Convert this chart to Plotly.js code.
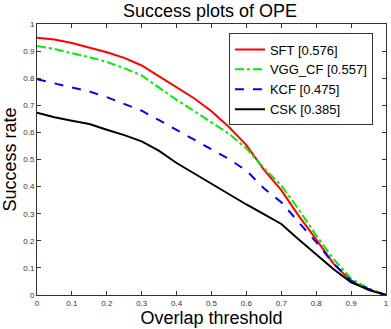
<!DOCTYPE html>
<html>
<head>
<meta charset="utf-8">
<script src="https://cdn.plot.ly/plotly-3.0.1.min.js"></script>
<style>
  body { margin: 0; background: #fff; }
  #chart { width: 391px; height: 329px; }
</style>
</head>
<body>
<div id="chart"></div>
<script>
// overlap thresholds
var thresholds = [0, 0.05, 0.1, 0.15, 0.2, 0.25, 0.3, 0.35, 0.4, 0.45, 0.5,
  0.55, 0.6, 0.65, 0.7, 0.75, 0.8, 0.85, 0.9, 0.95, 1];

// success rates
var sftRate = [0.949, 0.943, 0.93, 0.914, 0.896, 0.875, 0.847, 0.807, 0.766, 0.726, 0.678,
  0.62, 0.553, 0.463, 0.387, 0.292, 0.205, 0.115, 0.052, 0.018, 0];
var vggRate = [0.919, 0.908, 0.892, 0.878, 0.86, 0.837, 0.81, 0.765, 0.72, 0.679, 0.637,
  0.595, 0.541, 0.469, 0.404, 0.315, 0.22, 0.132, 0.06, 0.024, 0];
var kcfRate = [0.796, 0.781, 0.766, 0.751, 0.73, 0.705, 0.68, 0.645, 0.609, 0.572, 0.535,
  0.502, 0.459, 0.394, 0.342, 0.267, 0.195, 0.115, 0.053, 0.022, 0];
var cskRate = [0.673, 0.656, 0.643, 0.631, 0.61, 0.59, 0.567, 0.532, 0.487, 0.448, 0.41,
  0.373, 0.334, 0.298, 0.262, 0.205, 0.15, 0.095, 0.047, 0.02, 0];

var names = ["SFT [0.576]", "VGG_CF [0.557]", "KCF [0.475]", "CSK [0.385]"];

function trace(y, name, color, dash) {
  return {
    x: thresholds,
    y: y,
    name: name,
    type: "scatter",
    mode: "lines",
    line: { color: color, width: 2, dash: dash }
  };
}

var data = [
  trace(sftRate, names[0], "#ff0000", "solid"),
  trace(vggRate, names[1], "#00ee00", "dashdot"),
  trace(kcfRate, names[2], "#0000ff", "dash"),
  trace(cskRate, names[3], "#000000", "solid")
];

var axisStyle = {
  range: [0, 1],
  dtick: 0.1,
  showgrid: false,
  zeroline: false,
  showline: true,
  linecolor: "#333",
  linewidth: 1,
  mirror: "ticks",
  ticks: "inside",
  ticklen: 4,
  tickcolor: "#333",
  tickfont: { size: 8, color: "#333" }
};

var layout = {
  width: 391,
  height: 329,
  margin: { l: 37, r: 5, t: 24, b: 34 },
  paper_bgcolor: "#fff",
  plot_bgcolor: "#fff",
  font: { family: "Liberation Sans, Arial, sans-serif", color: "#000" },
  title: {
    text: "Success plots of OPE",
    font: { size: 18, weight: "normal" },
    x: 0.537,
    xanchor: "center",
    y: 0.966,
    yanchor: "middle"
  },
  xaxis: Object.assign({}, axisStyle, {
    title: { text: "Overlap threshold", font: { size: 18 }, standoff: 4 }
  }),
  yaxis: Object.assign({}, axisStyle, {
    title: { text: "Success rate", font: { size: 18 }, standoff: 6 }
  }),
  showlegend: true,
  legend: {
    x: 0.55,
    y: 0.965,
    xanchor: "left",
    yanchor: "top",
    bgcolor: "#fff",
    bordercolor: "#333",
    borderwidth: 1,
    font: { size: 13 },
    tracegroupgap: 0
  }
};

Plotly.newPlot("chart", data, layout, { staticPlot: true });
</script>
</body>
</html>
